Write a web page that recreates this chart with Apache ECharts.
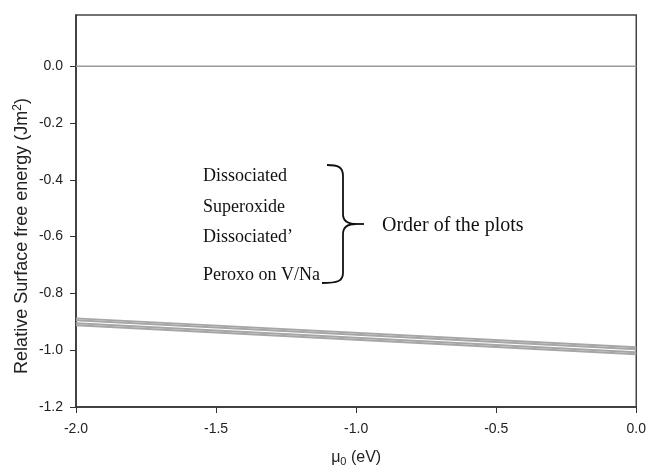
<!DOCTYPE html>
<html>
<head>
<meta charset="utf-8">
<style>
  html, body { margin: 0; padding: 0; background: #fff; }
  #chart { width: 649px; height: 472px; }
</style>
<script src="https://cdn.jsdelivr.net/npm/echarts@6/dist/echarts.min.js"></script>
</head>
<body>
<div id="chart"></div>
<script>
// data
const muValues = [-2.0, 0.0];
const zeroLine = [0.0, 0.0];
const dissociated = [-0.888, -0.990];
const superoxide = [-0.895, -0.997];
const dissociated2 = [-0.905, -1.007];
const peroxo = [-0.912, -1.014];
const yTicks = [-1.2, -1.0, -0.8, -0.6, -0.4, -0.2, 0.0];
const xTicks = [-2.0, -1.5, -1.0, -0.5, 0.0];
const noteLines = ['Dissociated', 'Superoxide', 'Dissociated\u2019', 'Peroxo on V/Na'];

let myChart = echarts.init(document.getElementById('chart'));

function pairs(ys) {
    return muValues.map(function (x, i) { return [x, ys[i]]; });
}

// 灰色线条
function grayLine(name, ys) {
    return {
        name: name,
        type: 'line',
        data: pairs(ys),
        symbol: 'none',
        lineStyle: { color: '#a6a6a6', width: 2 },
        z: 3
    };
}

let sans = 'Liberation Sans, Arial, sans-serif';
let noteY = [177, 208, 238, 276];
let braceStyle = { fill: null, stroke: '#111', lineWidth: 1.8 };

function curve(x1, y1, c1x, c1y, c2x, c2y, x2, y2) {
    return {
        type: 'bezierCurve',
        shape: { x1: x1, y1: y1, cpx1: c1x, cpy1: c1y, cpx2: c2x, cpy2: c2y, x2: x2, y2: y2 },
        style: braceStyle
    };
}
function seg(x1, y1, x2, y2) {
    return { type: 'line', shape: { x1: x1, y1: y1, x2: x2, y2: y2 }, style: braceStyle };
}

let option = {
    animation: false,
    grid: {
        left: 76,
        right: 12,
        top: 15,
        bottom: 62,
        show: true,
        borderColor: '#444',
        borderWidth: 1.5
    },
    xAxis: {
        type: 'value',
        min: -2,
        max: 0,
        interval: 0.5,
        splitLine: { show: false },
        axisLine: { onZero: false, lineStyle: { color: '#333', width: 1.5 } },
        axisTick: { inside: false, length: 6, customValues: xTicks, lineStyle: { color: '#333' } },
        axisLabel: {
            customValues: xTicks,
            color: '#222',
            fontSize: 14,
            fontFamily: sans,
            margin: 15,
            formatter: function (v) { return v.toFixed(1); }
        },
        name: '{t|\u03bc}{s|0}{t| (eV)}',
        nameLocation: 'middle',
        nameGap: 41,
        nameTextStyle: {
            rich: {
                t: { fontSize: 16, color: '#222', fontFamily: sans },
                s: { fontSize: 11, color: '#222', fontFamily: sans, padding: [8, 0, 0, 0] }
            }
        }
    },
    yAxis: {
        type: 'value',
        min: -1.2,
        max: 0.18,
        interval: 0.2,
        splitLine: { show: false },
        axisLine: { onZero: false, lineStyle: { color: '#333', width: 1.5 } },
        axisTick: { inside: false, length: 6, customValues: yTicks, lineStyle: { color: '#333' } },
        axisLabel: {
            customValues: yTicks,
            color: '#222',
            fontSize: 14,
            fontFamily: sans,
            margin: 13,
            formatter: function (v) {
                if (Math.abs(v * 5 - Math.round(v * 5)) > 1e-6) return '';
                return v.toFixed(1);
            }
        }
    },
    series: [
        {
            name: 'zero',
            type: 'line',
            data: pairs(zeroLine),
            symbol: 'none',
            lineStyle: { color: '#9a9a9a', width: 1.5 },
            z: 2
        },
        grayLine('Dissociated', dissociated),
        grayLine('Superoxide', superoxide),
        grayLine('Dissociated\u2019', dissociated2),
        grayLine('Peroxo on V/Na', peroxo)
    ],
    graphic: [
        // y轴标题（竖排）
        {
            type: 'text',
            x: 22,
            y: 236,
            rotation: Math.PI / 2,
            style: {
                text: '{t|Relative Surface free energy (Jm}{s|2}{t|)}',
                align: 'center',
                verticalAlign: 'middle',
                rich: {
                    t: { fontSize: 18, fill: '#222', fontFamily: sans },
                    s: { fontSize: 12, fill: '#222', fontFamily: sans, padding: [0, 0, 9, 0] }
                }
            }
        },
        // 左侧四行说明文字
        ...noteLines.map(function (txt, i) {
            return {
                type: 'text',
                left: 203,
                top: noteY[i] - 10,
                style: {
                    text: txt,
                    font: '18px "Liberation Serif", "Times New Roman", serif',
                    fill: '#111'
                }
            };
        }),
        // 大括号
        curve(327, 165, 338, 165, 343, 167, 343, 176),
        seg(343, 176, 343, 214),
        curve(343, 214, 343, 221, 348, 224, 356, 224),
        seg(356, 224, 364, 224),
        curve(356, 224, 348, 224, 343, 227, 343, 234),
        seg(343, 234, 343, 273),
        curve(343, 273, 343, 281, 338, 283, 322, 283),
        {
            type: 'text',
            left: 382,
            top: 216,
            style: {
                text: 'Order of the plots',
                font: '20px "Liberation Serif", "Times New Roman", serif',
                fill: '#111'
            }
        }
    ]
};

myChart.setOption(option);
</script>
</body>
</html>
